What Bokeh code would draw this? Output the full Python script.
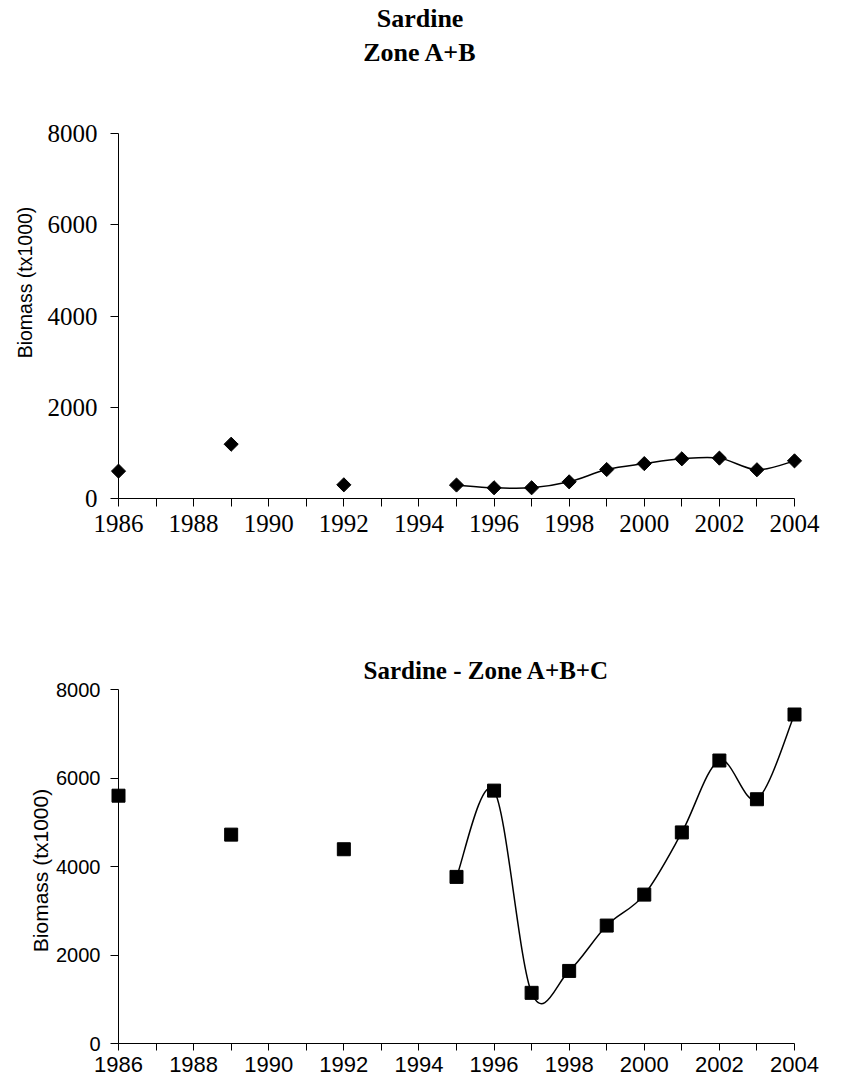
import numpy as np
from bokeh.plotting import figure
from bokeh.layouts import column
from bokeh.models import FixedTicker, Range1d
from bokeh.core.properties import value
from bokeh.embed import file_html
from bokeh.resources import INLINE

# ---------------- data ----------------
years = [1986, 1989, 1992, 1995, 1996, 1997, 1998, 1999, 2000, 2001, 2002, 2003, 2004]
biomass_ab = [600, 1190, 300, 295, 235, 235, 365, 635, 765, 870, 885, 630, 825]
biomass_abc = [5600, 4720, 4390, 3765, 5715, 1145, 1640, 2665, 3365, 4770, 6395, 5520, 7435]
smooth_from = 1995          # smoothed line joins the yearly surveys from this year on
x_ticks = list(range(1986, 2005))
y_ticks = [0, 2000, 4000, 6000, 8000]
title_ab = ["Sardine", "Zone A+B"]
title_abc = "Sardine - Zone A+B+C"
y_label = "Biomass (tx1000)"

SERIF = "Liberation Serif"
SANS = "Liberation Sans"


def bezier_segments(xs, ys):
    """Catmull-Rom style control points (like a spreadsheet 'smoothed line')."""
    P = np.column_stack([np.asarray(xs, float), np.asarray(ys, float)])
    n = len(P)
    seg = dict(x0=[], y0=[], x1=[], y1=[], cx0=[], cy0=[], cx1=[], cy1=[])
    for i in range(n - 1):
        prev = P[i - 1] if i > 0 else P[i]
        nxt = P[i + 2] if i + 2 < n else P[i + 1]
        c0 = P[i] + (P[i + 1] - prev) / 6.0
        c1 = P[i + 1] - (nxt - P[i]) / 6.0
        seg["x0"].append(P[i][0]); seg["y0"].append(P[i][1])
        seg["x1"].append(P[i + 1][0]); seg["y1"].append(P[i + 1][1])
        seg["cx0"].append(c0[0]); seg["cy0"].append(c0[1])
        seg["cx1"].append(c1[0]); seg["cy1"].append(c1[1])
    return seg


def style(p, tick_font, xsize, ysize, xstand, ystand, xtick_out):
    p.outline_line_color = None
    p.xgrid.visible = False
    p.ygrid.visible = False
    p.background_fill_color = "white"
    p.border_fill_color = "white"
    for ax in (p.xaxis[0], p.yaxis[0]):
        ax.axis_line_color = "black"
        ax.axis_line_width = 1
        ax.major_tick_line_color = "black"
        ax.major_tick_in = 0
        ax.minor_tick_line_color = None
        ax.major_label_text_font = tick_font
        ax.major_label_text_color = "black"
    p.xaxis[0].ticker = FixedTicker(ticks=x_ticks)
    p.xaxis[0].major_label_overrides = {t: ("" if t % 2 else str(t)) for t in x_ticks}
    p.xaxis[0].major_label_text_font_size = xsize
    p.xaxis[0].major_label_standoff = xstand
    p.xaxis[0].major_tick_out = xtick_out
    p.yaxis[0].ticker = FixedTicker(ticks=y_ticks)
    p.yaxis[0].major_label_text_font_size = ysize
    p.yaxis[0].major_label_standoff = ystand
    p.yaxis[0].major_tick_out = 8


def tail(vals):
    idx = [i for i, y in enumerate(years) if y >= smooth_from]
    return [years[i] for i in idx], [vals[i] for i in idx]


def text(p, x, y, t, font, size, bold=False, angle=0.0):
    r = p.text(x=[x], y=[y], text=[t], angle=angle,
               text_font=value(font), text_font_size=value(size),
               text_font_style=value("bold" if bold else "normal"),
               text_align=value("center"),
               text_baseline=value("middle" if angle else "alphabetic"),
               text_color="black")
    r.level = "overlay"


# ---------------- top chart ----------------
p1 = figure(width=840, height=548, x_range=Range1d(1986, 2004), y_range=Range1d(0, 8000),
            output_backend="svg", toolbar_location=None,
            min_border_left=111, min_border_right=30, min_border_top=133, min_border_bottom=50)
style(p1, SERIF, "25px", "25px", 8, 13, 8)

tx, ty = tail(biomass_ab)
b1 = p1.bezier(line_color="black", line_width=1.5, **bezier_segments(tx, ty))
b1.level = "overlay"
s1 = p1.scatter(years, biomass_ab, marker="square", size=10, angle=np.pi / 4,
                fill_color="black", line_color="black", line_width=1)
s1.level = "overlay"

text(p1, 1994.03, 10520, title_ab[0], SERIF, "26px", bold=True)
text(p1, 1994.03, 9776, title_ab[1], SERIF, "26px", bold=True)
text(p1, 1983.50, 4734, y_label, SANS, "19.5px", angle=np.pi / 2)

# ---------------- bottom chart ----------------
p2 = figure(width=840, height=532, x_range=Range1d(1986, 2004), y_range=Range1d(0, 8000),
            output_backend="svg", toolbar_location=None,
            min_border_left=118, min_border_right=46, min_border_top=141, min_border_bottom=37)
style(p2, SANS, "22px", "20px", 6, 10, 7)

tx, ty = tail(biomass_abc)
b2 = p2.bezier(line_color="black", line_width=1.5, **bezier_segments(tx, ty))
b2.level = "overlay"
s2 = p2.scatter(years, biomass_abc, marker="square", size=13,
                fill_color="black", line_color="black", line_width=1)
s2.level = "overlay"

text(p2, 1995.80, 8430, title_abc, SERIF, "25px", bold=True)
text(p2, 1983.92, 3910, y_label, SANS, "21px", angle=np.pi / 2)

layout = column(p1, p2, spacing=0)
open("out.html", "w").write(file_html(layout, INLINE))
